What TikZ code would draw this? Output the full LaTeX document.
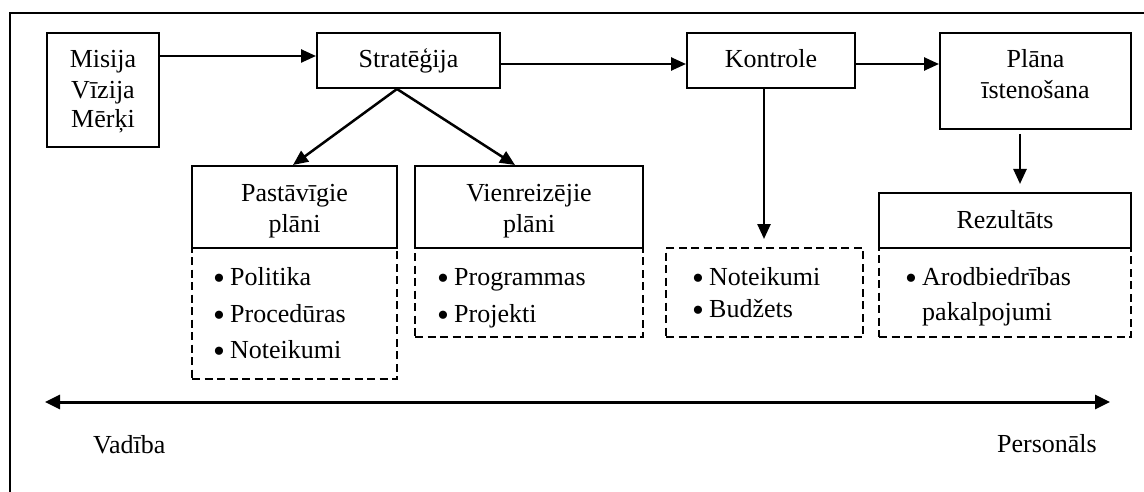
\documentclass[tikz,border=0pt]{standalone}
\usepackage{fontspec}
\setmainfont{Liberation Serif}
\usetikzlibrary{arrows.meta}
% list bullet: a slightly larger dot in a fixed-width slot
\newcommand{\itembullet}{\makebox[17pt][l]{\raisebox{-4pt}{\fontsize{34}{31}\selectfont •}}}
\begin{document}
\begin{tikzpicture}[x=1pt,y=-1pt,
  every node/.style={font=\fontsize{26}{31}\selectfont},
  box/.style={draw,line width=2pt,inner sep=0pt},
  dbox/.style={draw,line width=2pt,dash pattern=on 8pt off 4.5pt,inner sep=0pt},
  lbl/.style={anchor=base,inner sep=0pt},
  itm/.style={anchor=base west,inner sep=0pt},
  arr/.style={line width=2.5pt,-{Triangle[length=15pt,width=13pt]}},
]
\useasboundingbox (0,0) rectangle (1144,492);
% outer frame (runs past the page on the right and bottom)
\draw[line width=2pt] (10,13) rectangle (1170,520);

% solid boxes
\node[box,minimum width=112,minimum height=114] (misija) at (103,90) {};
\node[box,minimum width=183,minimum height=55] (strat) at (408.5,60.5) {};
\node[box,minimum width=168,minimum height=55] (kontr) at (771,60.5) {};
\node[box,minimum width=191,minimum height=96] (plana) at (1035.5,81) {};
\node[box,minimum width=205,minimum height=82] (past) at (294.5,207) {};
\node[box,minimum width=228,minimum height=82] (vien) at (529,207) {};
\node[box,minimum width=252,minimum height=55] (rez) at (1005,220.5) {};

% dashed boxes
\node[dbox,minimum width=205,minimum height=131] (pastd) at (294.5,313.5) {};
\node[dbox,minimum width=228,minimum height=89] (viend) at (529,292.5) {};
\node[dbox,minimum width=197,minimum height=89] (kontd) at (764.5,292.5) {};
\node[dbox,minimum width=252,minimum height=89] (rezd) at (1005,292.5) {};

% box titles
\node[lbl] (t1) at (103,68) {Misija};
\node[lbl] (t2) at (103,99) {Vīzija};
\node[lbl] (t3) at (103,128) {Mērķi};
\node[lbl] (t4) at (408.5,68) {Stratēģija};
\node[lbl] (t5) at (771,68) {Kontrole};
\node[lbl] (t6) at (1035.5,68) {Plāna};
\node[lbl] (t7) at (1035.5,99) {īstenošana};
\node[lbl] (t8) at (294.5,201) {Pastāvīgie};
\node[lbl] (t9) at (294.5,233) {plāni};
\node[lbl] (t10) at (529,201) {Vienreizējie};
\node[lbl] (t11) at (529,233) {plāni};
\node[lbl] (t12) at (1005,228) {Rezultāts};

% bullet lists
\node[itm] (p1) at (213,285) {\itembullet Politika};
\node[itm] (p2) at (213,322) {\itembullet Procedūras};
\node[itm] (p3) at (213,358) {\itembullet Noteikumi};
\node[itm] (v1) at (437,285) {\itembullet Programmas};
\node[itm] (v2) at (437,322) {\itembullet Projekti};
\node[itm] (k1) at (692,285) {\itembullet Noteikumi};
\node[itm] (k2) at (692,317) {\itembullet Budžets};
\node[itm] (r1) at (905,285) {\itembullet Arodbiedrības};
\node[itm] (r2) at (922,320) {pakalpojumi};

% connectors
\draw[arr] ([yshift=34pt]misija.east) -- ([yshift=4.5pt]strat.west);
\draw[arr] ([yshift=-3.5pt]strat.east) -- ([yshift=-3.5pt]kontr.west);
\draw[arr] ([yshift=-3.5pt]kontr.east) -- ([yshift=17pt]plana.west);
\draw[arr] ([xshift=-11.5pt]strat.south) -- ([xshift=-1.5pt]past.north);
\draw[arr] ([xshift=-11.5pt]strat.south) -- ([xshift=-14pt]vien.north);
\draw[arr] ([xshift=-7pt]kontr.south) -- ([xshift=-0.5pt,yshift=8pt]kontd.north);
\draw[arr] ([xshift=-15.5pt,yshift=-4pt]plana.south) -- ([xshift=15pt,yshift=8pt]rez.north);

% management / staff axis
\coordinate (al) at (45,402);
\coordinate (ar) at (1110,402);
\draw[line width=3pt,{Triangle[length=15pt,width=14pt]}-{Triangle[length=15pt,width=14pt]}] (al) -- (ar);
\node[itm] (vad) at (93,453) {Vadība};
\node[anchor=base east,inner sep=0pt] (pers) at (1097,452) {Personāls};
\end{tikzpicture}
\end{document}
